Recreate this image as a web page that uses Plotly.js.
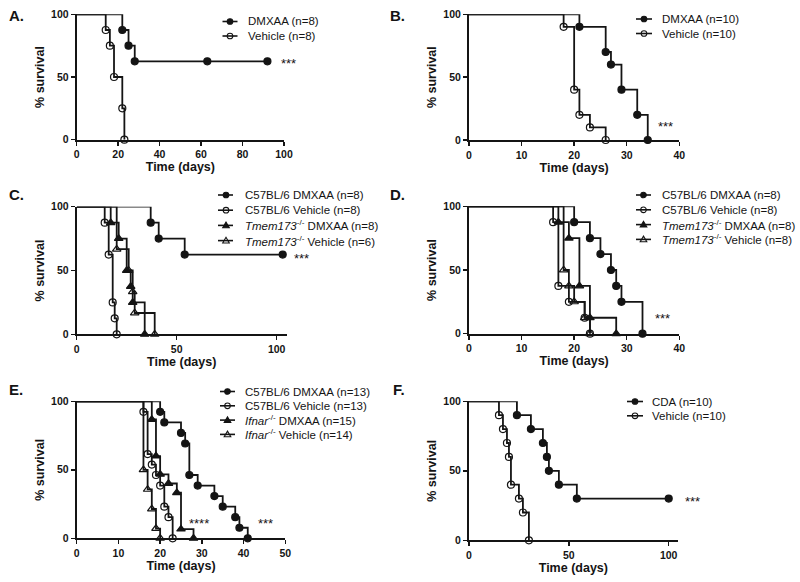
<!DOCTYPE html>
<html>
<head>
<meta charset="utf-8">
<script src="https://cdn.plot.ly/plotly-3.0.1.min.js"></script>
<style>
  html, body { margin: 0; padding: 0; background: #ffffff; }
  #chart { width: 800px; height: 582px; }
</style>
</head>
<body>
<div id="chart"></div>
<script>
// ---------------- DATA ----------------
// Panel A
const aDmxaaDays = [0, 22, 25, 28, 63, 92];
const aDmxaaSurv = [100, 87.5, 75, 62.5, 62.5, 62.5];
const aVehDays   = [0, 14, 16, 18, 22, 23];
const aVehSurv   = [100, 87.5, 75, 50, 25, 0];
const aNames     = ['DMXAA (n=8)', 'Vehicle (n=8)'];

// Panel B
const bDmxaaDays = [0, 21, 26, 27, 29, 32, 34];
const bDmxaaSurv = [100, 90, 70, 60, 40, 20, 0];
const bVehDays   = [0, 18, 20, 21, 23, 26];
const bVehSurv   = [100, 90, 40, 20, 10, 0];
const bNames     = ['DMXAA (n=10)', 'Vehicle (n=10)'];

// Panel C
const cWtDmxaaDays  = [0, 37, 41, 54, 103];
const cWtDmxaaSurv  = [100, 87.5, 75, 62.5, 62.5];
const cWtVehDays    = [0, 14, 16, 18, 19, 20];
const cWtVehSurv    = [100, 87.5, 62.5, 25, 12.5, 0];
const cKoDmxaaDays  = [0, 17, 21, 25, 27, 28, 34];
const cKoDmxaaSurv  = [100, 87.5, 75, 50, 37.5, 25, 0];
const cKoVehDays    = [0, 20, 26, 28, 29, 39];
const cKoVehSurv    = [100, 66.7, 50, 33.3, 16.7, 0];
const cNames = ['C57BL/6 DMXAA (n=8)', 'C57BL/6 Vehicle (n=8)',
                '<i>Tmem173</i><sup>-/-</sup> DMXAA (n=8)', '<i>Tmem173</i><sup>-/-</sup> Vehicle (n=6)'];

// Panel D
const dWtDmxaaDays  = [0, 20, 23, 25, 27, 28, 29, 33];
const dWtDmxaaSurv  = [100, 87.5, 75, 62.5, 50, 37.5, 25, 0];
const dWtVehDays    = [0, 16, 17, 19, 22, 23];
const dWtVehSurv    = [100, 87.5, 37.5, 25, 12.5, 0];
const dKoDmxaaDays  = [0, 17, 19, 21, 23, 28];
const dKoDmxaaSurv  = [100, 87.5, 75, 37.5, 12.5, 0];
const dKoVehDays    = [0, 18, 19, 20, 22, 23];
const dKoVehSurv    = [100, 50, 37.5, 25, 12.5, 0];
const dNames = ['C57BL/6 DMXAA (n=8)', 'C57BL/6 Vehicle (n=8)',
                '<i>Tmem173</i><sup>-/-</sup> DMXAA (n=8)', '<i>Tmem173</i><sup>-/-</sup> Vehicle (n=8)'];

// Panel E
const eWtDmxaaDays  = [0, 20, 21, 25, 26, 27, 29, 33, 35, 38, 39, 41];
const eWtDmxaaSurv  = [100, 92.3, 84.6, 76.9, 69.2, 46.2, 38.5, 30.8, 23.1, 15.4, 7.7, 0];
const eWtVehDays    = [0, 16, 17, 18, 19, 20, 21, 22, 23];
const eWtVehSurv    = [100, 92.3, 61.5, 53.8, 46.2, 38.5, 23.1, 15.4, 0];
const eKoDmxaaDays  = [0, 18, 19, 20, 22, 24, 25, 28];
const eKoDmxaaSurv  = [100, 86.7, 60, 46.7, 40, 33.3, 6.7, 0];
const eKoVehDays    = [0, 16, 17, 18, 19, 20];
const eKoVehSurv    = [100, 50, 35.7, 21.4, 7.1, 0];
const eNames = ['C57BL/6 DMXAA (n=13)', 'C57BL/6 Vehicle (n=13)',
                '<i>Ifnar</i><sup>-/-</sup> DMXAA (n=15)', '<i>Ifnar</i><sup>-/-</sup> Vehicle (n=14)'];

// Panel F
const fCdaDays = [0, 24, 31, 37, 39, 40, 45, 54, 100];
const fCdaSurv = [100, 90, 80, 70, 60, 50, 40, 30, 30];
const fVehDays = [0, 15, 17, 19, 20, 21, 25, 27, 30];
const fVehSurv = [100, 90, 80, 70, 60, 40, 30, 20, 0];
const fNames   = ['CDA (n=10)', 'Vehicle (n=10)'];

// Tick / axis values
const panelLabels = ['A.', 'B.', 'C.', 'D.', 'E.', 'F.'];
const xMax   = [100, 40, 105, 40, 50, 104.5];
const xDtick = [20, 10, 50, 10, 10, 50];
const yTicks = [0, 50, 100];
const xTitle = 'Time (days)';
const yTitle = '% survival';
const sigText = [['***'], ['***'], ['***'], ['***'], ['****', '***'], ['***']];

// ---------------- STYLE / LAYOUT ----------------
const W = 800, H = 582;
const INK = '#141414';
const FONT = 'Liberation Sans, Arial, sans-serif';
const SYM = {
  fc: 'circle', oc: 'circle-open', ft: 'triangle-up', ot: 'triangle-up-open'
};
const px2x = p => p / W;
const px2y = p => 1 - p / H;

// pixel boxes of the six plot areas [left, right, top, bottom]
const boxes = [
  [76.7, 284.0, 14.3, 139.7],
  [469.0, 679.3, 14.3, 140.0],
  [76.7, 286.7, 206.7, 334.3],
  [469.0, 679.3, 206.3, 333.7],
  [76.7, 285.3, 401.3, 538.3],
  [469.0, 677.7, 401.3, 540.3]
];
const labelPos = [[7, 15], [388, 15], [7, 195], [388, 195], [7, 390], [391, 390]];
// legend: [line left px, marker px, line right px, text left px, first row y px, row gap]
const legendPos = [
  [222.5, 230, 237.5, 246, 21.5, 14.5],
  [636, 644, 652, 660, 19, 14.5],
  [218, 226, 233, 243, 195, 15.2],
  [636, 643.5, 651, 660, 195, 14.8],
  [220, 227.5, 235, 243, 391.5, 14.3],
  [627, 635, 643, 650, 401.5, 14.3]
];
const sigPos = [
  [[279, 61.7]], [[656, 124]], [[292, 256]], [[652.7, 316.7]],
  [[187.3, 521.7], [256, 521.7]], [[682.7, 499]]
];

const panels = [
  { series: [[aDmxaaDays, aDmxaaSurv, 'fc'], [aVehDays, aVehSurv, 'oc']], names: aNames },
  { series: [[bDmxaaDays, bDmxaaSurv, 'fc'], [bVehDays, bVehSurv, 'oc']], names: bNames },
  { series: [[cWtDmxaaDays, cWtDmxaaSurv, 'fc'], [cWtVehDays, cWtVehSurv, 'oc'],
             [cKoDmxaaDays, cKoDmxaaSurv, 'ft'], [cKoVehDays, cKoVehSurv, 'ot']], names: cNames },
  { series: [[dWtDmxaaDays, dWtDmxaaSurv, 'fc'], [dWtVehDays, dWtVehSurv, 'oc'],
             [dKoDmxaaDays, dKoDmxaaSurv, 'ft'], [dKoVehDays, dKoVehSurv, 'ot']], names: dNames },
  { series: [[eWtDmxaaDays, eWtDmxaaSurv, 'fc'], [eWtVehDays, eWtVehSurv, 'oc'],
             [eKoDmxaaDays, eKoDmxaaSurv, 'ft'], [eKoVehDays, eKoVehSurv, 'ot']], names: eNames },
  { series: [[fCdaDays, fCdaSurv, 'fc'], [fVehDays, fVehSurv, 'oc']], names: fNames }
];

const traces = [];
const layout = {
  width: W, height: H,
  margin: { l: 0, r: 0, t: 0, b: 0 },
  paper_bgcolor: '#ffffff', plot_bgcolor: 'rgba(0,0,0,0)',
  showlegend: false,
  font: { family: FONT, color: INK },
  annotations: [], shapes: []
};

function markerSize(kind) { return (kind === 'fc' || kind === 'oc') ? 7 : 7.5; }

panels.forEach((p, i) => {
  const k = i + 1;
  const xa = 'x' + (k === 1 ? '' : k), ya = 'y' + (k === 1 ? '' : k);
  const [l, r, t, b] = boxes[i];

  p.series.forEach((s, j) => {
    const [xs, ys, kind] = s;
    traces.push({
      type: 'scatter', mode: 'lines+markers',
      x: xs, y: ys, xaxis: xa, yaxis: ya,
      name: p.names[j].replace(/<[^>]+>/g, ''),
      line: { shape: 'hv', color: INK, width: 1.8 },
      marker: {
        symbol: SYM[kind],
        size: xs.map((_, q) => q === 0 ? 0 : markerSize(kind)),
        opacity: 1,
        color: INK,
        line: { color: INK, width: 1.2 }
      },
      cliponaxis: false, hoverinfo: 'skip', showlegend: false
    });
  });

  const axCommon = {
    showline: true, linecolor: INK, linewidth: 2,
    ticks: 'outside', ticklen: 4, tickwidth: 1.5, tickcolor: INK,
    showgrid: false, zeroline: false, fixedrange: true,
    tickfont: { family: FONT, size: 10.5, color: INK, weight: 'bold' }
  };
  layout['xaxis' + (k === 1 ? '' : k)] = Object.assign({}, axCommon, {
    domain: [px2x(l), px2x(r)], anchor: ya, range: [0, xMax[i]],
    tick0: 0, dtick: xDtick[i],
    title: { text: xTitle, standoff: 3, font: { family: FONT, size: 12.5, color: INK, weight: 'bold' } }
  });
  layout['yaxis' + (k === 1 ? '' : k)] = Object.assign({}, axCommon, {
    domain: [px2y(b), px2y(t)], anchor: xa, range: [0, 100],
    tickvals: yTicks,
    title: { text: yTitle, standoff: 4, font: { family: FONT, size: 12.5, color: INK, weight: 'bold' } }
  });

  // panel label
  layout.annotations.push({
    xref: 'paper', yref: 'paper', x: px2x(labelPos[i][0]), y: px2y(labelPos[i][1]),
    xanchor: 'left', yanchor: 'middle', showarrow: false, text: panelLabels[i],
    font: { family: FONT, size: 15, color: INK, weight: 'bold' }
  });

  // significance marks
  sigText[i].forEach((txt, q) => {
    const [sx, sy] = sigPos[i][q];
    layout.annotations.push({
      xref: 'paper', yref: 'paper', x: px2x(sx), y: px2y(sy + 2),
      xanchor: 'left', yanchor: 'middle', showarrow: false, text: txt,
      font: { family: FONT, size: 13, color: INK }
    });
  });

  // legend (built from series names and styles)
  const [lx0, mx, lx1, tx, ry0, gap] = legendPos[i];
  p.series.forEach((s, j) => {
    const kind = s[2];
    const ry = ry0 + j * gap;
    layout.shapes.push({
      type: 'line', xref: 'paper', yref: 'paper',
      x0: px2x(lx0), x1: px2x(lx1), y0: px2y(ry), y1: px2y(ry),
      line: { color: INK, width: 1.6 }
    });
    const filled = (kind === 'fc' || kind === 'ft');
    const mk = {
      xref: 'paper', yref: 'paper', xsizemode: 'pixel', ysizemode: 'pixel',
      xanchor: px2x(mx), yanchor: px2y(ry),
      fillcolor: filled ? INK : 'rgba(0,0,0,0)', opacity: 1,
      line: { color: INK, width: 1.1 }
    };
    if (kind === 'fc' || kind === 'oc') {
      Object.assign(mk, { type: 'circle', x0: -2.8, x1: 2.8, y0: -2.8, y1: 2.8 });
    } else {
      Object.assign(mk, { type: 'path', path: 'M-3.3,-2.4L3.3,-2.4L0,3.3Z' });
    }
    layout.shapes.push(mk);
    layout.annotations.push({
      xref: 'paper', yref: 'paper', x: px2x(tx), y: px2y(ry),
      xanchor: 'left', yanchor: 'middle', showarrow: false, text: p.names[j],
      font: { family: FONT, size: 11.5, color: INK }
    });
  });
});

Plotly.newPlot('chart', traces, layout, { staticPlot: true, displayModeBar: false });
</script>
</body>
</html>
